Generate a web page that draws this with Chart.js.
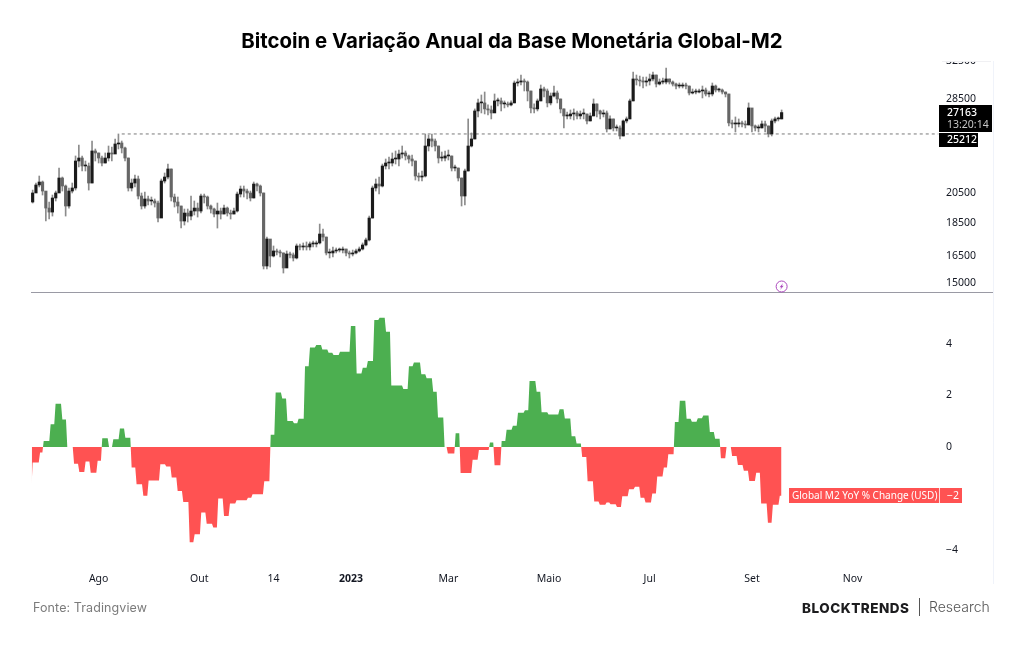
<!DOCTYPE html>
<html lang="pt">
<head>
<meta charset="utf-8">
<title>Bitcoin e Variação Anual da Base Monetária Global-M2</title>
<script src="https://cdn.jsdelivr.net/npm/chart.js@4"></script>
<style>
  html, body { margin: 0; padding: 0; background: #fff; }
  #wrap { position: relative; width: 1024px; height: 645px; overflow: hidden; }
  #chart { position: absolute; left: 0; top: 0; }
  .foot { position: absolute; white-space: nowrap; line-height: 1; }
  #source { left: 33px; top: 600px; font: 400 12.5px Inter, sans-serif; color: #7b7b7b; letter-spacing: .1px; }
  #brand { left: 802px; top: 600px; font: 800 13.5px Inter, sans-serif; color: #1c1c1e; letter-spacing: .5px; }
  #bar { left: 919px; top: 598px; width: 1px; height: 18px; background: #555; }
  #research { left: 929px; top: 598px; font: 300 14px Inter, sans-serif; color: #555; }
</style>
</head>
<body>
<div id="wrap">
  <canvas id="chart" width="1024" height="645"></canvas>
  <div class="foot" id="source">Fonte: Tradingview</div>
  <div class="foot" id="brand">BLOCKTRENDS</div>
  <div class="foot" id="bar"></div>
  <div class="foot" id="research">Research</div>
</div>
<script>
// BTC/USD candles, one every two days, starting 22 Jun 2022
const firstCandleDay = 1;
const candleStep = 2;
const firstOpen = 19890;
const candleCloses = [
  20525, 21105, 21325, 20665, 19475, 19205, 20170, 20525, 21625, 21030,
  19615, 20665, 20885, 22945, 23185, 22550, 22550, 21250, 23760, 23595,
  23185, 22785, 23185, 23595, 23510, 24345, 24430, 24010, 23185, 20885,
  21250, 21550, 20310, 19615, 20100, 19960, 19960, 19820, 18810, 21400,
  21700, 22315, 20240, 19890, 19615, 18615, 19140, 18940, 19275, 19475,
  19275, 20310, 20240, 19615, 19410, 19075, 19275, 19075, 19475, 19140,
  19075, 19275, 20450, 20810, 20665, 20525, 20170, 21175, 21030, 20525,
  15915, 17485, 16480, 16770, 16710, 16655, 15805, 16595, 16540, 16365,
  17065, 17005, 17065, 17005, 17185, 17185, 17245, 17790, 17605, 16655,
  16655, 16770, 16825, 16825, 16885, 16655, 16595, 16655, 16770, 16885,
  17125, 17425, 18810, 20885, 21175, 21030, 22550, 22785, 22785, 23105,
  23105, 23510, 23595, 23350, 23105, 22945, 21775, 21700, 21775, 24175,
  24775, 24600, 24175, 23185, 23185, 23350, 23350, 22390, 22390, 21625,
  20310, 22160, 24175, 24775, 27315, 28090, 28090, 27510, 27410, 27125,
  28285, 28285, 27990, 27990, 27895, 28090, 30110, 30215, 30325, 30215,
  29285, 27605, 27510, 28285, 29490, 29285, 28090, 28780, 29080, 28480,
  27510, 26845, 26845, 27030, 27125, 26845, 27030, 27030, 26380, 26845,
  27990, 27315, 27030, 27125, 25655, 26565, 25745, 25745, 25035, 26380,
  26565, 28285, 30535, 30430, 30325, 30215, 30325, 30535, 30960, 30005,
  30215, 30215, 30535, 30215, 30005, 29795, 29795, 29900, 29795, 29080,
  29180, 29180, 29285, 29385, 28980, 28980, 29795, 29385, 29385, 29180,
  28980, 26200, 26105, 26105, 26200, 26105, 26015, 27605, 25925, 25745,
  25745, 26105, 25925, 25210, 26380, 26565, 26565, 27163
];
const candleHighs = [
  20735, 21250, 21775, 21400, 20240, 19890, 20380, 20665, 22390, 21700,
  21105, 20885, 21250, 23350, 24260, 23350, 22945, 22785, 24600, 23925,
  23595, 23350, 23595, 24175, 24095, 24775, 25212, 24600, 24095, 23185,
  21550, 21855, 21775, 20525, 20595, 20310, 20240, 20100, 19960, 21550,
  22005, 22705, 22315, 20450, 20240, 19615, 19410, 19410, 20310, 19960,
  19820, 20450, 20450, 20310, 19685, 19475, 19820, 19475, 19685, 19545,
  19340, 19475, 20595, 21030, 21030, 20810, 20665, 21325, 21250, 21105,
  20525, 17605, 17365, 17065, 16885, 16825, 16655, 16770, 16710, 16655,
  17185, 17185, 17245, 17305, 17305, 17365, 17365, 18420, 18105, 17605,
  16885, 17005, 16945, 16945, 17005, 16885, 16770, 16825, 16885, 17005,
  17245, 17545, 18940, 21030, 21550, 21700, 22705, 23105, 23270, 23595,
  23760, 23840, 24175, 23760, 23430, 23430, 22945, 22005, 22160, 25210,
  25125, 25210, 24775, 24175, 23675, 23760, 23840, 23350, 22630, 22390,
  21625, 22315, 26565, 25300, 27510, 28480, 28880, 29180, 27895, 27795,
  28980, 28580, 28580, 28285, 28185, 28285, 30325, 30535, 30960, 30535,
  30325, 29285, 27990, 28480, 29900, 29695, 29490, 29080, 29795, 29285,
  28480, 27510, 27220, 27410, 27510, 27315, 27315, 27510, 27030, 27125,
  28480, 27990, 27410, 27410, 27315, 26845, 26565, 26015, 25925, 26470,
  26750, 28480, 31285, 30960, 30850, 30745, 30745, 31065, 31285, 30960,
  30535, 30640, 31725, 30535, 30325, 30110, 30110, 30110, 30110, 29795,
  29490, 29490, 29490, 29795, 29590, 29285, 30110, 29900, 29590, 29490,
  29180, 28980, 26470, 26750, 26565, 26380, 26380, 28090, 27510, 26015,
  26015, 26380, 26380, 25925, 26565, 26750, 26750, 27410
];
const candleLows = [
  19820, 20595, 20960, 20380, 18615, 18745, 18940, 19960, 21175, 20665,
  18940, 19475, 20525, 20735, 22470, 22160, 22160, 20735, 21250, 22945,
  22785, 22550, 22785, 22945, 22945, 23595, 23925, 23595, 22945, 20665,
  20665, 20960, 20100, 19410, 19475, 19685, 19685, 19545, 18550, 18875,
  21250, 21550, 19960, 19545, 19140, 18165, 18355, 18550, 18680, 19010,
  18875, 19140, 19820, 19410, 19140, 18875, 18165, 18745, 19075, 18940,
  18745, 19075, 19205, 20240, 20240, 20100, 19960, 20170, 20665, 20310,
  15750, 15750, 15860, 16425, 16540, 16425, 15530, 16085, 16365, 16195,
  16310, 16825, 16825, 16825, 16825, 17005, 17005, 17185, 17365, 16540,
  16365, 16425, 16655, 16710, 16655, 16480, 16365, 16480, 16595, 16710,
  16825, 17065, 17365, 18810, 20665, 20450, 20960, 22315, 22315, 22550,
  22705, 22550, 23185, 23025, 22785, 22550, 21475, 21400, 21400, 21700,
  23760, 24095, 23760, 22785, 22945, 22945, 23025, 22160, 22160, 21400,
  19615, 19685, 22160, 24095, 24775, 26750, 27125, 27030, 26940, 26565,
  27315, 27795, 27315, 27605, 27700, 27795, 28090, 29795, 29900, 29285,
  28285, 27125, 27125, 27315, 28285, 28680, 27700, 27895, 28680, 28090,
  27125, 25745, 26565, 26565, 26470, 26565, 26565, 26565, 26105, 26380,
  26845, 26750, 26565, 26750, 25385, 25655, 25475, 25475, 24775, 25035,
  26200, 26565, 28285, 29900, 29795, 29590, 29795, 29900, 30325, 29695,
  29900, 30005, 30005, 30005, 29795, 29490, 29590, 29590, 29490, 28880,
  28980, 28980, 29080, 28580, 28780, 28680, 28780, 29180, 29180, 28980,
  28680, 25925, 25745, 25385, 25835, 25835, 25745, 26015, 25385, 25475,
  25385, 25745, 25385, 24950, 25035, 26200, 26380, 26565
];
const dashedLevel = 25212;
const dashedFromDay = 55;
const dashedToDay = 550;

// Global M2 YoY, a step series: each value holds from its day until the next one
const m2Days = [
  0.4, 1, 5.5, 7.7, 11.9, 14.9, 19, 22, 26.1, 29.3,
  33.1, 36.2, 40.4, 43.2, 47.3, 49.9, 53.9, 57.2, 61, 64,
  68.1, 71.3, 78.4, 82, 85.3, 88.9, 92.3, 96.2, 99.2, 103.2,
  106.5, 110.5, 113.5, 117, 120.6, 124.6, 131.5, 134.3, 141.4, 145.3,
  148.3, 152.3, 155.4, 159.4, 162.2, 166.1, 169.1, 172.9, 176.6, 180.4,
  183.4, 187.3, 193.9, 197.4, 201.1, 204.2, 208.1, 211.3, 215.2, 218.4,
  225.7, 229.1, 232.1, 236.6, 239.8, 243.8, 246.7, 250.7, 252.7, 257.4,
  260.4, 267.7, 271.5, 278.2, 281, 285.3, 288.3, 292.1, 295.2, 299.4,
  302.2, 306.5, 309.5, 313.7, 320.4, 323.6, 327.7, 330.7, 334.1, 337.4,
  341.4, 344.8, 348.9, 351.3, 355.2, 358.4, 362.5, 366.1, 369.5, 372.5,
  376.6, 379.6, 383.6, 386.3, 390.3, 393.3, 397.4, 400.6, 404.2, 407.5,
  411.5, 414.7, 418.2, 421.6, 425, 428.5, 432.1, 435.4, 439.6, 442.6,
  446.7, 449.7, 453.9, 455
];
const m2Values = [
  -1.45, -0.6, -0.22, 0.23, 0.88, 1.68, 1.07, 0, -0.65, -0.97,
  -0.57, -1, -0.54, 0.34, 0, 0.3, 0.72, 0.36, -0.8, -1.45,
  -1.9, -1.3, -0.67, -0.76, -1.19, -1.71, -2.14, -3.7, -3.39, -2.55,
  -2.98, -3.13, -2, -2.68, -2.2, -2.07, -1.97, -1.84, -1.33, 0.47,
  2.11, 1.88, 1.01, 0.92, 1.09, 3.13, 3.86, 3.96, 3.78, 3.66,
  3.57, 3.7, 4.7, 2.85, 3.08, 3.34, 4.93, 5.02, 4.47, 2.39,
  2.25, 3.13, 3.28, 2.82, 2.67, 2.14, 1.14, 0, -0.26, 0.53,
  -1.01, -0.5, -0.12, 0.17, -0.71, 0.23, 0.67, 0.82, 1.33, 1.42,
  2.56, 2.14, 1.35, 1.26, 1.46, 1.1, 0.41, 0.13, -0.39, -1.33,
  -2.12, -2.25, -2.16, -2.23, -2.33, -1.92, -1.64, -1.55, -1.97, -2.16,
  -1.81, -1.15, -0.8, -0.28, 0.97, 1.79, 1.09, 0.98, 1.11, 1.22,
  0.58, 0.32, -0.44, 0, -0.35, -0.7, -0.93, -1.32, -1, -2.2,
  -2.94, -2.25, -1.9, -1.9
];

const priceTicks = [15000, 16500, 18500, 20500, 28500, 32500];
const m2Ticks = [-4, 0, 2, 4];
const timeTickDays = [41, 102, 147, 194, 253, 314, 375, 437, 498];
const timeTickLabels = ['Ago', 'Out', '14', '2023', 'Mar', 'Maio', 'Jul', 'Set', 'Nov'];
const countdownText = '13:20:14';
const m2LabelText = 'Global M2 YoY % Change (USD)';

const tickFont = { family: '"Noto Sans", sans-serif', size: 10.5 };
const upColor = '#1a1a1a';
const downColor = '#666666';
const wickColor = '#8c8c8c';

const candleOpens = candleCloses.map((c, i) => (i === 0 ? firstOpen : candleCloses[i - 1]));
const candleX = candleCloses.map((c, i) => firstCandleDay + i * candleStep);

// a step takes about a day to move to its next level, so the area has slanted sides
const m2Path = m2Days.flatMap((d, i) => {
    const next = m2Days[i + 1];
    if (next === undefined) return [{ x: d, y: m2Values[i] }];
    return [{ x: d, y: m2Values[i] }, { x: Math.max(d, next - 0.8), y: m2Values[i] }];
});

// separator lines, last-value boxes and the small event marker
const overlayPlugin = {
    id: 'overlay',
    afterDraw(chart) {
        const c = chart.ctx;
        const price = chart.scales.price;
        const m2 = chart.scales.m2;
        const x = chart.scales.x;
        const left = x.left;
        const right = price.right;

        c.save();
        // header box of the price scale sits over the top tick
        c.fillStyle = '#fff';
        c.fillRect(x.right, 0, 60, price.top);
        c.strokeStyle = '#f0f0f3';
        c.beginPath();
        c.moveTo(x.right + 2, price.top + 0.5);
        c.lineTo(right - 2, price.top + 0.5);
        c.stroke();

        c.strokeStyle = '#f0f3fa';
        c.beginPath();
        c.moveTo(right + 0.5, price.top);
        c.lineTo(right + 0.5, m2.bottom + 14);
        c.stroke();

        c.strokeStyle = '#9a9aa4';
        c.beginPath();
        c.moveTo(left, Math.floor(price.bottom) - 0.5);
        c.lineTo(right, Math.floor(price.bottom) - 0.5);
        c.stroke();

        // price labels
        const lastClose = candleCloses[candleCloses.length - 1];
        const boxTop = Math.round(price.getPixelForValue(lastClose) - 8);
        c.fillStyle = '#000';
        c.fillRect(x.right - 1, boxTop, 53, 27);
        c.fillRect(x.right - 1, boxTop + 28, 39, 14);
        c.textBaseline = 'middle';
        c.textAlign = 'left';
        c.font = '500 10.5px "Noto Sans", sans-serif';
        c.fillStyle = '#fff';
        c.fillText(String(lastClose), x.right + 7, boxTop + 8);
        c.fillText(String(dashedLevel), x.right + 7, boxTop + 35);
        c.fillStyle = '#c8c8c8';
        c.font = '10.5px "Noto Sans", sans-serif';
        c.fillText(countdownText, x.right + 7, boxTop + 20);

        // M2 label
        const lastM2 = m2Values[m2Values.length - 1];
        const m2Y = Math.round(m2.getPixelForValue(lastM2));
        c.fillStyle = '#ff5252';
        c.fillRect(789, m2Y - 8, 173, 15);
        c.fillStyle = '#ffd9d9';
        c.fillRect(x.right - 1, m2Y - 8, 1, 15);
        c.fillStyle = '#fff';
        c.font = '10px "Noto Sans", sans-serif';
        c.fillText(m2LabelText, 792, m2Y);
        c.font = '10.5px "Noto Sans", sans-serif';
        c.fillText('\u2212' + Math.abs(Math.round(lastM2)), x.right + 7, m2Y);

        // event marker
        const mx = x.getPixelForValue(455);
        const my = price.bottom - 7.5;
        c.strokeStyle = '#ab47bc';
        c.lineWidth = 1;
        c.beginPath();
        c.arc(mx, my, 5.5, 0, Math.PI * 2);
        c.stroke();
        c.fillStyle = '#ab47bc';
        c.beginPath();
        c.moveTo(mx + 1.5, my - 3.5);
        c.lineTo(mx - 2, my + 0.8);
        c.lineTo(mx - 0.2, my + 0.8);
        c.lineTo(mx - 1.5, my + 3.5);
        c.lineTo(mx + 2, my - 0.8);
        c.lineTo(mx + 0.2, my - 0.8);
        c.closePath();
        c.fill();
        c.restore();
    },
};

new Chart(document.getElementById('chart'), {
    data: {
        datasets: [
            {
                type: 'bar',
                yAxisID: 'price',
                grouped: false,
                barThickness: 2.5,
                minBarLength: 1,
                backgroundColor: candleCloses.map((c, i) => (c >= candleOpens[i] ? upColor : downColor)),
                data: candleX.map((d, i) => ({ x: d, y: [candleOpens[i], candleCloses[i]] })),
            },
            {
                type: 'bar',
                yAxisID: 'price',
                grouped: false,
                barThickness: 1,
                backgroundColor: wickColor,
                data: candleX.map((d, i) => ({ x: d, y: [candleLows[i], candleHighs[i]] })),
            },
            {
                type: 'line',
                yAxisID: 'price',
                borderColor: '#7a7a7a',
                borderWidth: 1,
                borderDash: [3, 3],
                pointRadius: 0,
                data: [{ x: dashedFromDay, y: dashedLevel }, { x: dashedToDay, y: dashedLevel }],
            },
            {
                type: 'line',
                yAxisID: 'm2',
                borderWidth: 0,
                pointRadius: 0,
                fill: { target: { value: 0 }, above: '#4caf50', below: '#ff5252' },
                data: m2Path,
            },
        ],
    },
    plugins: [overlayPlugin],
    options: {
        responsive: false,
        animation: false,
        events: [],
        layout: { padding: { left: 31, right: 31, top: 30, bottom: 55 } },
        plugins: {
            legend: { display: false },
            tooltip: { enabled: false },
            title: {
                display: true,
                text: 'Bitcoin e Variação Anual da Base Monetária Global-M2',
                color: '#000',
                font: { family: 'Inter, sans-serif', size: 20.4, weight: '700' },
                padding: { top: 0, bottom: 6.5 },
            },
        },
        scales: {
            x: {
                type: 'linear',
                min: 0,
                max: 551,
                offset: false,
                grid: { display: false, drawTicks: false },
                border: { display: false },
                afterBuildTicks: (s) => { s.ticks = timeTickDays.map((v) => ({ value: v })); },
                afterFit: (s) => { s.height = 20; },
                ticks: {
                    padding: 3,
                    autoSkip: false,
                    maxRotation: 0,
                    color: '#131722',
                    font: (ctx) => (ctx.index === 3 ? { ...tickFont, weight: '700' } : tickFont),
                    callback: (v, i) => timeTickLabels[i],
                },
            },
            price: {
                type: 'logarithmic',
                position: 'right',
                stack: 'panes',
                stackWeight: 233,
                weight: 0,
                min: 14436,
                max: 32511,
                grid: { display: false, drawTicks: false },
                border: { display: false },
                afterBuildTicks: (s) => { s.ticks = priceTicks.map((v) => ({ value: v })); },
                afterFit: (s) => { s.width = 53; },
                ticks: { padding: 6, autoSkip: false, color: '#131722', font: tickFont, callback: (v) => String(v) },
            },
            m2: {
                type: 'linear',
                position: 'right',
                stack: 'panes',
                stackWeight: 276,
                weight: 1,
                min: -4.78,
                max: 5.94,
                grid: { display: false, drawTicks: false },
                border: { display: false },
                afterBuildTicks: (s) => { s.ticks = m2Ticks.map((v) => ({ value: v })); },
                afterFit: (s) => { s.width = 53; },
                ticks: {
                    padding: 6,
                    autoSkip: false,
                    color: '#131722',
                    font: tickFont,
                    callback: (v) => (v < 0 ? '\u2212' + Math.abs(v) : String(v)),
                },
            },
        },
    },
});
</script>
</body>
</html>
